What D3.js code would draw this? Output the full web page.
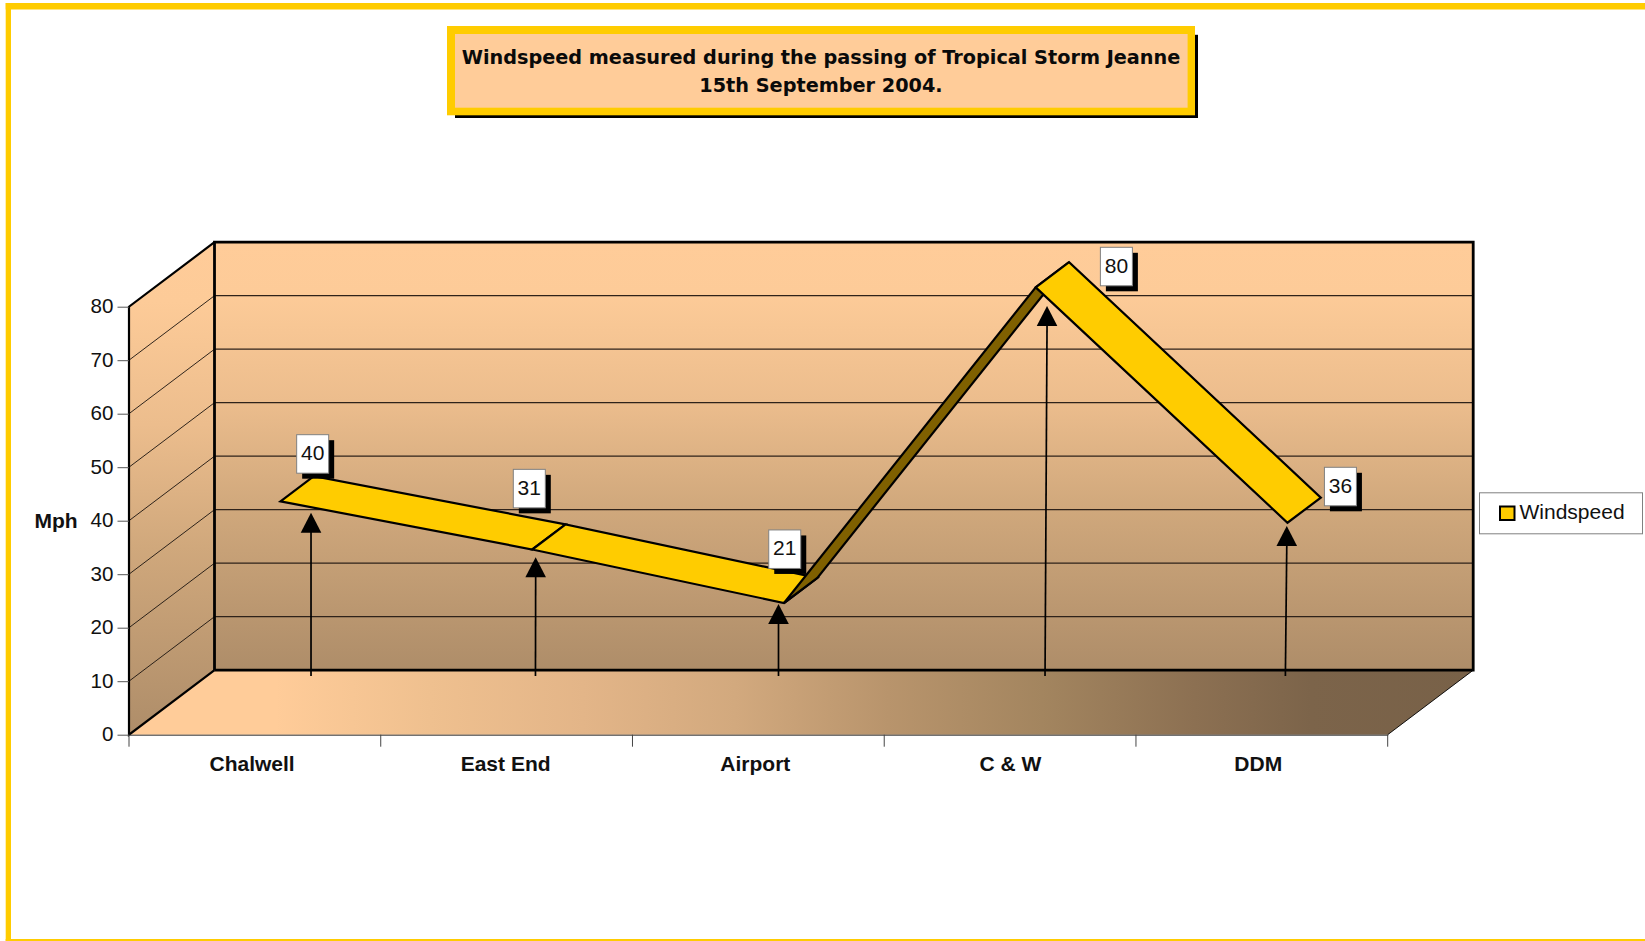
<!DOCTYPE html>
<html><head><meta charset="utf-8">
<script src="https://cdn.jsdelivr.net/npm/d3@7"></script>
<style>html,body{margin:0;padding:0;background:#fff}svg{display:block}</style>
</head><body><svg id="c" width="1645" height="941"></svg>
<script>
const categories = ["Chalwell","East End","Airport","C & W","DDM"];
const windspeed = [40,31,21,80,36];
const valueTicks = [0,10,20,30,40,50,60,70,80];
const seriesName = "Windspeed";
const yAxisTitle = "Mph";
const titleLines = ["Windspeed measured during the passing of Tropical Storm Jeanne","15th September 2004."];

// annotation placement (pixels relative to projected data points)
const labelDx = [-17.2,-52.3,-48.6,31.3,3.6];
const labelDy = [-41.5,-55,-47.9,-14.9,-30.3];
const arrowTopDx = [30.5,3.4,-5.5,11.3,-0.7];
const arrowBotDx = [30.5,3.2,-5.5,9.3,-2.1];
const arrowTipDy = [11.3,7.8,1,18.7,3.3];
const catLabelDx = [-2.8,-1,-3,0.2,-3.6];

const svg = d3.select("#c");
const defs = svg.append("defs");
const FONT = "'Liberation Sans',Arial,sans-serif";
const YEL = "#FFCC00";

const x = d3.scaleBand().domain(categories).range([129,1387.7]).padding(0);
const y = d3.scaleLinear().domain([0,80]).range([734.7,306.7]);
const zx = d3.scaleLinear().domain([0,1]).range([0,85.5]);
const zy = d3.scaleLinear().domain([0,1]).range([0,-64.5]);
const Z1 = 0.3, Z2 = 0.69;
const cx = c => x(c)+x.bandwidth()/2;
const P = (px,v,z) => [px+zx(z), y(v)+zy(z)];
const line = d3.line();
const [xL,xR] = x.range();
const vMax = 80;

function grad(id,x1,y1,x2,y2,stops){
  const g = defs.append("linearGradient").attr("id",id).attr("gradientUnits","userSpaceOnUse")
    .attr("x1",x1).attr("y1",y1).attr("x2",x2).attr("y2",y2);
  stops.forEach(s=>g.append("stop").attr("offset",s[0]).attr("stop-color",s[1]));
}
const wallStops = [[0,"#FFCC99"],[0.12,"#FDCB98"],[0.37,"#ECBD8D"],[0.62,"#D0A87C"],[1,"#AE8D69"]];
grad("wall",0,y(vMax)+zy(1),0,y(0)+zy(1),wallStops);
grad("side",0,y(vMax)+zy(1),0,y(0),wallStops);
grad("floor",xL,0,xR+zx(1),0,[[0,"#FFCC99"],[0.109,"#FFCC99"],[0.224,"#EFC08F"],[0.338,"#E3B588"],[0.451,"#D2A97E"],[0.565,"#B8946C"],[0.679,"#A3855F"],[0.793,"#8C7052"],[0.879,"#7C644A"],[1,"#786148"]]);

// frame
svg.append("rect").attr("x",5.7).attr("y",3).attr("width",5.3).attr("height",938).attr("fill",YEL);
svg.append("rect").attr("x",5.7).attr("y",3).attr("width",1640).attr("height",6.5).attr("fill",YEL);
svg.append("rect").attr("x",5.7).attr("y",939).attr("width",1640).attr("height",2).attr("fill",YEL);

// title box
const tb = svg.append("g");
tb.append("rect").attr("x",455).attr("y",34.8).attr("width",743).attr("height",83.2).attr("fill","#000");
tb.append("rect").attr("x",447).attr("y",26).attr("width",748).attr("height",89.3).attr("fill",YEL);
tb.append("rect").attr("x",455).attr("y",34).attr("width",732.6).attr("height",73.7).attr("fill","#FFCC99");
tb.selectAll("text").data(titleLines).join("text")
  .attr("x",821).attr("y",(d,i)=>i?91.8:63.8).attr("text-anchor","middle")
  .attr("font-family","'DejaVu Sans',Verdana,sans-serif").attr("font-weight","bold").attr("font-size",19.25)
  .attr("fill","#0a0a0a").text(d=>d);

// walls
const poly = pts => line(pts)+"Z";
svg.append("path").attr("d",poly([P(xL,vMax,1),P(xR,vMax,1),P(xR,0,1),P(xL,0,1)])).attr("fill","url(#wall)");
svg.append("path").attr("d",poly([P(xL,0,0),P(xL,vMax,0),P(xL,vMax,1),P(xL,0,1)])).attr("fill","url(#side)");
svg.append("path").attr("d",poly([P(xL,0,0),P(xR,0,0),P(xR,0,1),P(xL,0,1)])).attr("fill","url(#floor)");

// gridlines
const gridVals = valueTicks.filter(v=>v>0&&v<vMax);
svg.append("g").selectAll("line").data(gridVals).join("line")
  .attr("x1",P(xL,0,1)[0]).attr("x2",P(xR,0,1)[0])
  .attr("y1",v=>P(xL,v,1)[1]).attr("y2",v=>P(xL,v,1)[1]).attr("stroke","#2e221a").attr("stroke-width",1.2);
svg.append("g").selectAll("path").data(gridVals).join("path")
  .attr("d",v=>line([P(xL,v,0),P(xL,v,1)])).attr("stroke","#1a130e").attr("stroke-width",0.9).attr("fill","none");

// outlines
const thick = (pts,w)=>svg.append("path").attr("d",line(pts)).attr("fill","none").attr("stroke","#000").attr("stroke-width",w).attr("stroke-linejoin","miter");
thick([P(xL,0,1),P(xL,vMax,1),P(xR,vMax,1),P(xR,0,1),P(xL,0,1)],2.8);
thick([P(xL,vMax,1),P(xL,vMax,0),P(xL,0,0),P(xL,0,1)],2.2);
thick([P(xR,0,0),P(xR,0,1)],0.9);

// axes
const yAxis = svg.append("g").attr("transform",`translate(${xL},0)`)
  .call(d3.axisLeft(y).tickValues(valueTicks).tickSize(11.5).tickPadding(4).tickFormat(d3.format("d")));
yAxis.select(".domain").remove();
yAxis.selectAll("line").attr("stroke","#555").attr("stroke-width",1);
yAxis.selectAll("text").attr("font-family",FONT).attr("font-size",20.6).attr("fill","#111").attr("dy",null)
  .attr("y",5.8).attr("dominant-baseline","auto");

const xAxis = svg.append("g").attr("transform",`translate(0,${y(0)})`)
  .call(d3.axisBottom(x).tickSize(0).tickPadding(0));
xAxis.select(".domain").attr("stroke","#333").attr("stroke-width",1);
xAxis.selectAll("text").attr("font-family",FONT).attr("font-size",21).attr("font-weight","bold").attr("fill","#111")
  .attr("dy",null).attr("y",36).attr("dominant-baseline","auto").attr("x",(d,i)=>catLabelDx[i]);
svg.append("g").selectAll("line").data(d3.range(categories.length+1)).join("line")
  .attr("x1",i=>xL+i*x.bandwidth()).attr("x2",i=>xL+i*x.bandwidth())
  .attr("y1",y(0)).attr("y2",y(0)+12).attr("stroke","#444").attr("stroke-width",1);

svg.append("text").attr("x",56).attr("y",528).attr("text-anchor","middle")
  .attr("font-family",FONT).attr("font-size",21).attr("font-weight","bold").attr("fill","#111").text(yAxisTitle);

// arrows
const pts = categories.map((c,i)=>({c,v:windspeed[i],i,px:cx(c)}));
const arrows = svg.append("g").selectAll("g").data(pts).join("g");
arrows.each(function(d){
  const f = P(d.px,d.v,Z1);
  const tx = f[0]+arrowTopDx[d.i], bx = f[0]+arrowBotDx[d.i], tip = f[1]+arrowTipDy[d.i], head = 20;
  const g = d3.select(this);
  g.append("path").attr("d",line([[bx,676],[tx,tip+head-1]])).attr("stroke","#000").attr("stroke-width",1.7).attr("fill","none");
  g.append("path").attr("d",poly([[tx,tip],[tx+10.3,tip+head],[tx-10.3,tip+head]])).attr("fill","#000");
});

// ribbon, drawn left to right
const segs = d3.pairs(pts);
const quad = (a,b)=>poly([P(a.px,a.v,Z1),P(b.px,b.v,Z1),P(b.px,b.v,Z2),P(a.px,a.v,Z2)]);
svg.append("g").selectAll("path").data(segs).join("path")
  .attr("d",s=>quad(s[0],s[1]))
  .attr("fill",s=>s[1].v>s[0].v?"#7F6000":YEL)
  .attr("stroke","#000").attr("stroke-width",2.2).attr("stroke-linejoin","miter");

// data labels
const lab = svg.append("g").selectAll("g").data(pts).join("g").attr("transform",d=>{
  const b = P(d.px,d.v,Z2);
  return `translate(${b[0]+labelDx[d.i]},${b[1]+labelDy[d.i]})`;
});
lab.append("rect").attr("x",5.5).attr("y",5.5).attr("width",32).attr("height",38.5).attr("fill","#000");
lab.append("rect").attr("x",0).attr("y",0).attr("width",32).attr("height",38.5).attr("fill","#fff").attr("stroke","#808080").attr("stroke-width",1);
lab.append("text").attr("x",16).attr("y",25.5).attr("text-anchor","middle").attr("font-family",FONT).attr("font-size",21).attr("fill","#111").text(d=>d.v);

// legend
const lg = svg.append("g");
lg.append("rect").attr("x",1479.5).attr("y",492.8).attr("width",163).attr("height",41).attr("fill","#fff").attr("stroke","#808080").attr("stroke-width",1);
lg.append("rect").attr("x",1500).attr("y",506.5).attr("width",14.5).attr("height",13.5).attr("fill",YEL).attr("stroke","#000").attr("stroke-width",2);
lg.append("text").attr("x",1519.5).attr("y",519.3).attr("font-family",FONT).attr("font-size",21).attr("fill","#111").text(seriesName);
</script></body></html>
